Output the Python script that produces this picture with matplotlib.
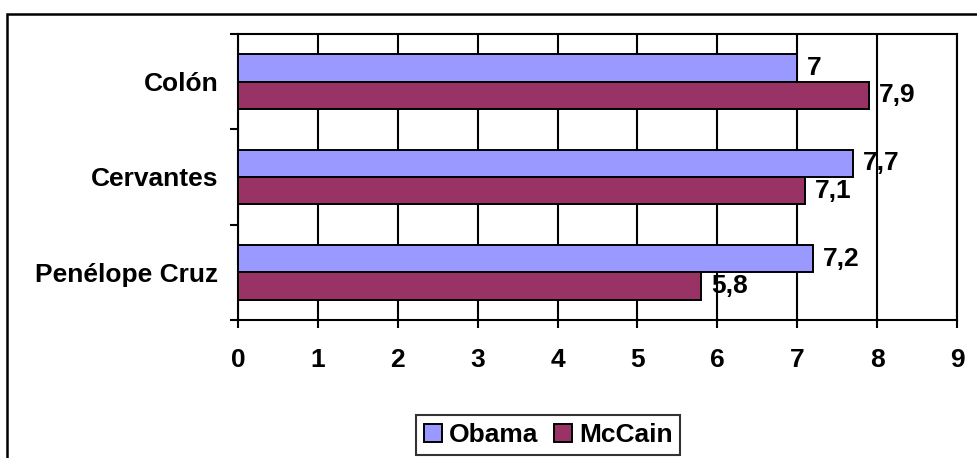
import numpy as np
import matplotlib
matplotlib.use("Agg")
from matplotlib import pyplot as plt
from matplotlib.patches import Rectangle

# datos
personas = ["Penélope Cruz", "Cervantes", "Colón"]
obama = [7.2, 7.7, 7.0]
mccain = [5.8, 7.1, 7.9]
series = ["Obama", "McCain"]
colores = ["#9999FF", "#993366"]

plt.rcParams['font.family'] = ['Liberation Sans', 'DejaVu Sans']
plt.rcParams['font.weight'] = 'bold'
fs = 19


def etiqueta(v):
    return ("%g" % v).replace(".", ",")


fig = plt.figure(figsize=(9.77, 4.58), dpi=100)
ax = fig.add_axes([238 / 977, 1 - 320 / 458, 719 / 977, 286 / 458])

y = np.arange(len(personas))
h = 0.285
b1 = ax.barh(y + h / 2, obama, height=h, color=colores[0], edgecolor="black", linewidth=1.4, label=series[0], zorder=3)
b2 = ax.barh(y - h / 2, mccain, height=h, color=colores[1], edgecolor="black", linewidth=1.4, label=series[1], zorder=3)
ax.bar_label(b1, labels=[etiqueta(v) for v in obama], padding=7, fontsize=fs, fontweight="bold")
ax.bar_label(b2, labels=[etiqueta(v) for v in mccain], padding=7, fontsize=fs, fontweight="bold")

ax.set_xlim(0, 9)
ax.set_ylim(-0.5, 2.5)
ax.set_xticks(range(10))
ax.set_xticklabels([str(i) for i in range(10)], fontsize=fs, fontweight="bold")
ax.set_yticks([-0.5, 0.5, 1.5, 2.5])
ax.set_yticklabels([])
ax.set_yticks(y, minor=True)
ax.set_yticklabels(personas, minor=True, fontsize=fs, fontweight="bold")
ax.tick_params(axis="y", which="minor", length=0, pad=14)
ax.tick_params(axis="both", which="major", length=6, width=1.5, color="black")
ax.tick_params(axis="x", pad=14)
ax.grid(axis="x", color="black", linewidth=1.5, zorder=1)
for s in ax.spines.values():
    s.set_linewidth(1.5)

# marco exterior
fig.patches.append(Rectangle((7 / 977, -0.1), 1.2, 1 - 14 / 458 + 0.1, transform=fig.transFigure,
                             fill=False, edgecolor="black", linewidth=1.8))

fig.legend(loc="center", bbox_to_anchor=(548 / 977, 1 - 435 / 458), ncol=2, fontsize=fs,
           prop={"weight": "bold", "size": fs}, frameon=True, fancybox=False, edgecolor="black",
           handlelength=0.7, handleheight=0.7, handletextpad=0.25, columnspacing=0.6, borderpad=0.3,
           borderaxespad=0)
fig.legends[0].get_frame().set_linewidth(1.5)

fig.savefig("out.png", dpi=100)
